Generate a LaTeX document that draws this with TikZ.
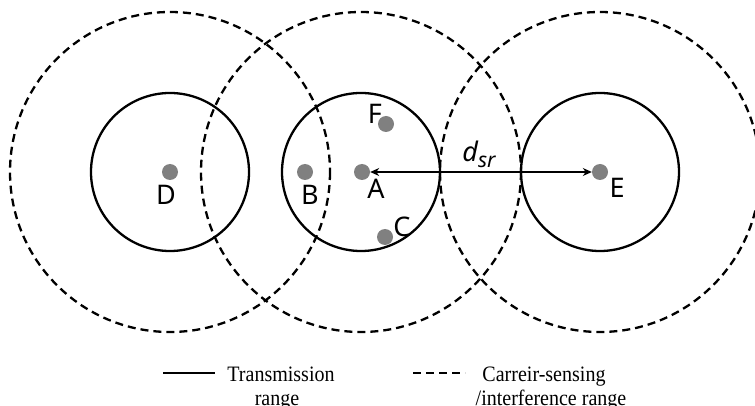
\documentclass[tikz,border=0pt]{standalone}
\usepackage{fontspec}
\newfontfamily\lblfont{Noto Sans}
\newfontfamily\legfont{Liberation Serif}
\usetikzlibrary{arrows.meta}
\begin{document}
\begin{tikzpicture}[x=1pt,y=-1pt,
  solidrange/.style={draw=black,line width=2.3pt},
  dashrange/.style={draw=black,line width=2.3pt,dash pattern=on 8pt off 5pt},
  dot/.style={circle,fill=gray,inner sep=0pt,minimum size=16pt},
  lbl/.style={font=\lblfont\fontsize{27}{30}\selectfont,inner sep=0pt},
  leg/.style={font=\legfont\fontsize{22}{24}\selectfont,inner sep=0pt,anchor=base}
]
\clip (0,0) rectangle (755,406);
% ranges
\draw[dashrange] (170,172) circle[radius=160];
\draw[dashrange] (361,172) circle[radius=160];
\draw[dashrange] (600,172) circle[radius=160];
\draw[solidrange] (170,172) circle[radius=79];
\draw[solidrange] (361,172) circle[radius=79];
\draw[solidrange] (600,172) circle[radius=79];
% stations
\node[dot] (D) at (170,172) {};
\node[dot] (B) at (305,172) {};
\node[dot] (A) at (362,172) {};
\node[dot] (F) at (386,124) {};
\node[dot] (C) at (385,237) {};
\node[dot] (E) at (600,172) {};
\node[lbl] (Dl) at (166,195) {D};
\node[lbl] (Bl) at (310,195) {B};
\node[lbl] (Al) at (376,189) {A};
\node[lbl] (Fl) at (375,114) {F};
\node[lbl] (Cl) at (402,227) {C};
\node[lbl] (El) at (617,188) {E};
% distance
\draw[{Stealth[length=9pt,width=8pt]}-{Stealth[length=9pt,width=8pt]},line width=1.2pt] (A) -- (E);
\node[inner sep=0pt] (dsr) at (479,154) {\lblfont\itshape\fontsize{27}{30}\selectfont d\raisebox{-6pt}{\fontsize{21}{24}\selectfont sr}};
% legend
\coordinate (s1) at (163,373);
\coordinate (s2) at (215,373);
\coordinate (q1) at (413,373);
\coordinate (q2) at (465,373);
\draw[solidrange] (s1) -- (s2);
\draw[dashrange] (q1) -- (q2);
\node[leg] (t1) at (281,381) {\scalebox{0.91}[1]{Transmission}};
\node[leg] (t2) at (277,405) {\scalebox{0.91}[1]{range}};
\node[leg] (c1) at (544,381) {\scalebox{0.91}[1]{Carreir-sensing}};
\node[leg] (c2) at (551,405) {\scalebox{0.91}[1]{/interference range}};
\end{tikzpicture}
\end{document}
